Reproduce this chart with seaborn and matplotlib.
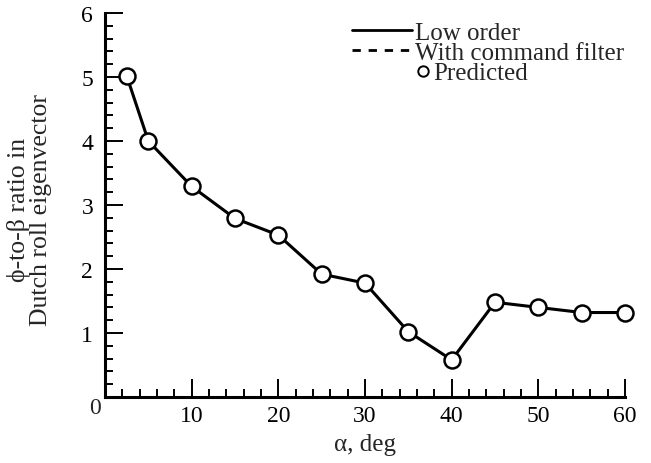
import matplotlib
matplotlib.use("Agg")
import matplotlib.pyplot as plt
import seaborn as sns
import pandas as pd
from matplotlib.lines import Line2D
from matplotlib.legend_handler import HandlerLine2D
from matplotlib.ticker import MultipleLocator
from matplotlib.transforms import Affine2D

alpha_deg = [2.5, 5, 10, 15, 20, 25, 30, 35, 40, 45, 50, 55, 60]
ratio = [5.02, 4.0, 3.29, 2.79, 2.53, 1.92, 1.78, 1.02, 0.58, 1.48, 1.40, 1.32, 1.32]
x_ticks = [10, 20, 30, 40, 50, 60]
y_ticks = [1, 2, 3, 4, 5, 6]
legend_labels = ["Low order", "With command filter", "Predicted"]

sns.set_style("ticks")
plt.rcParams['font.family'] = ['Liberation Serif', 'DejaVu Serif']

df = pd.DataFrame({"alpha": alpha_deg, "ratio": ratio})

W, H = 651, 464
fig = plt.figure(figsize=(W / 100, H / 100), dpi=100)
ax = fig.add_axes([105 / W, (H - 398) / H, (625 - 105) / W, (398 - 14) / H])

sns.lineplot(data=df, x="alpha", y="ratio", ax=ax, color="black", linewidth=2.2,
             marker="o", markersize=11.5, markerfacecolor="white",
             markeredgecolor="black", markeredgewidth=1.8, zorder=3, clip_on=False)

ax.set_xlim(0, 60)
ax.set_ylim(0, 6)
ax.set_xticks(x_ticks)
ax.set_yticks(y_ticks)
ax.xaxis.set_minor_locator(MultipleLocator(2))
ax.yaxis.set_minor_locator(MultipleLocator(0.2))
ax.tick_params(which="major", direction="in", length=13, width=1.4, labelsize=17,
               colors="black")
ax.tick_params(which="minor", direction="in", length=6, width=1.4, colors="black")
ax.tick_params(axis="x", which="major", pad=6)
ax.tick_params(axis="y", which="major", pad=8.5)
for s in ["top", "right"]:
    ax.spines[s].set_visible(False)
for s in ["left", "bottom"]:
    ax.spines[s].set_linewidth(2.2)
    ax.spines[s].set_color("black")

ax.text(-1.15, -0.17, "0", ha="center", va="center", fontsize=17)

ax.set_xlabel("α, deg", fontsize=18, labelpad=5)
ax.set_ylabel("ϕ-to-β ratio in\nDutch roll eigenvector", fontsize=18.5,
              linespacing=1.0)
ax.yaxis.set_label_coords(-0.102, 0.49)


class RightMarkerHandler(HandlerLine2D):
    def create_artists(self, legend, orig_handle, xdescent, ydescent, width, height,
                       fontsize, trans):
        y = height / 2 - ydescent
        m = Line2D([width - xdescent + 8], [y], linestyle="none", marker="o",
                   markersize=7.5, markerfacecolor="white", markeredgecolor="black",
                   markeredgewidth=1.4)
        m.set_transform(trans)
        return [m]


h1 = Line2D([], [], color="black", linewidth=2.0, linestyle="-")
h2 = Line2D([], [], color="black", linewidth=2.0, linestyle=(0, (3, 2.8)))
h3 = Line2D([], [], linestyle="none", marker="o")
leg = fig.legend([h1, h2, h3], legend_labels, loc="upper left",
                 bbox_to_anchor=(352 / W, 1 - 22 / H), frameon=False, fontsize=18,
                 handlelength=2.4, handletextpad=0.12, labelspacing=-0.08,
                 borderpad=0, borderaxespad=0,
                 handler_map={h3: RightMarkerHandler()})
t3 = leg.get_texts()[2]
t3.set_transform(t3.get_transform() + Affine2D().translate(18, 0))

fig.savefig("out.png", dpi=100)
